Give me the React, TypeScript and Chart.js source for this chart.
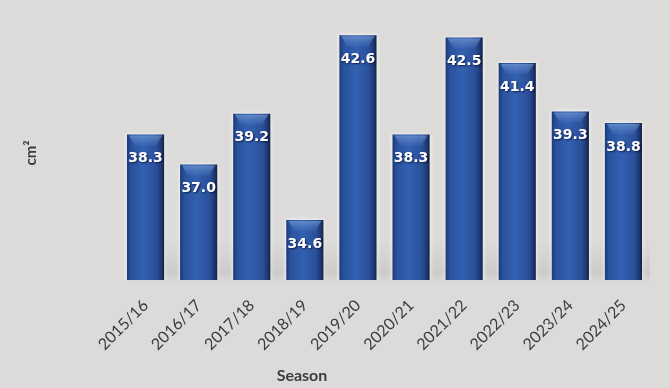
import React, { useEffect, useRef } from "react";
import { Chart, registerables } from "chart.js";

Chart.register(...registerables);

const seasons = [
  "2015/16",
  "2016/17",
  "2017/18",
  "2018/19",
  "2019/20",
  "2020/21",
  "2021/22",
  "2022/23",
  "2023/24",
  "2024/25",
];
const areaValues = [38.3, 37.0, 39.2, 34.6, 42.6, 38.3, 42.5, 41.4, 39.3, 38.8];
const yMin = 32;
const yMax = 43;
const xTitle = "Season";
const yTitle = "cm²";

const BAR_PCT = 0.7;
const TEXT_COLOR = "#3c3c3c";

const backgroundPlugin = {
  id: "bgPlugin",
  beforeDraw(chart: any) {
    const { ctx, width, height, chartArea } = chart;
    ctx.save();
    ctx.fillStyle = "#dcdbda";
    ctx.fillRect(0, 0, width, height);
    const g = ctx.createLinearGradient(0, chartArea.bottom - 40, 0, chartArea.bottom + 4);
    g.addColorStop(0, "rgba(0,0,0,0)");
    g.addColorStop(0.75, "rgba(0,0,0,0.07)");
    g.addColorStop(1, "rgba(0,0,0,0)");
    ctx.fillStyle = g;
    ctx.fillRect(chartArea.left + 10, chartArea.bottom - 40, chartArea.right - chartArea.left - 10, 44);
    ctx.restore();
  },
  beforeDatasetsDraw(chart: any) {
    const ctx = chart.ctx;
    ctx.save();
    ctx.shadowColor = "rgba(255,255,255,0.95)";
    ctx.shadowBlur = 4;
  },
  afterDatasetsDraw(chart: any) {
    const ctx = chart.ctx;
    ctx.restore();
    const meta = chart.getDatasetMeta(0);
    const data = chart.data.datasets[0].data as number[];
    meta.data.forEach((el: any, i: number) => {
      const w = el.width;
      const left = el.x - w / 2;
      const top = el.y;
      const bottom = el.base;
      if (![w, left, top, bottom].every((v) => Number.isFinite(v))) return;
      ctx.save();
      const gb = ctx.createLinearGradient(0, bottom - 24, 0, bottom);
      gb.addColorStop(0, "rgba(10,20,50,0)");
      gb.addColorStop(1, "rgba(10,20,50,0.35)");
      ctx.fillStyle = gb;
      ctx.fillRect(left, bottom - 24, w, 24);
      ctx.beginPath();
      ctx.moveTo(left + 2, top + 1);
      ctx.lineTo(left + w - 2, top + 1);
      ctx.lineTo(left + w - 8, top + 11);
      ctx.lineTo(left + 8, top + 11);
      ctx.closePath();
      const gt = ctx.createLinearGradient(0, top, 0, top + 12);
      gt.addColorStop(0, "rgba(150,185,235,0.55)");
      gt.addColorStop(1, "rgba(90,130,200,0.15)");
      ctx.fillStyle = gt;
      ctx.fill();
      ctx.font = "bold 14px 'DejaVu Sans'";
      ctx.textAlign = "center";
      ctx.textBaseline = "middle";
      ctx.shadowColor = "rgba(0,0,30,0.7)";
      ctx.shadowBlur = 2;
      ctx.shadowOffsetX = 1;
      ctx.shadowOffsetY = 1;
      ctx.fillStyle = "#ffffff";
      ctx.fillText(Number(data[i]).toFixed(1), el.x, top + 24);
      ctx.restore();
    });
  },
  afterDraw(chart: any) {
    const { ctx, chartArea } = chart;
    ctx.save();
    ctx.font = "bold 16px Lato";
    ctx.fillStyle = TEXT_COLOR;
    ctx.textAlign = "center";
    ctx.textBaseline = "middle";
    ctx.fillText(xTitle, chartArea.left + 183, chart.height - 12);
    ctx.restore();
  },
};

export default function App() {
  const ref = useRef<HTMLCanvasElement | null>(null);

  useEffect(() => {
    if (!ref.current) return;
    const chart = new Chart(ref.current, {
      type: "bar",
      data: {
        labels: seasons,
        datasets: [
          {
            data: areaValues,
            barPercentage: BAR_PCT,
            categoryPercentage: 1,
            borderWidth: 0,
            backgroundColor: (c: any) => {
              const ch = c.chart;
              const xs = ch.scales?.x;
              if (!xs || c.type !== "data") return "#2d5aa8";
              const cx = xs.getPixelForValue(c.dataIndex);
              const w = (xs.width / seasons.length) * BAR_PCT;
              if (!Number.isFinite(cx) || !Number.isFinite(w) || w <= 0) return "#2d5aa8";
              const g = ch.ctx.createLinearGradient(cx - w / 2, 0, cx + w / 2, 0);
              g.addColorStop(0, "#1b3a78");
              g.addColorStop(0.12, "#2a529e");
              g.addColorStop(0.45, "#3260b0");
              g.addColorStop(0.8, "#2a4f99");
              g.addColorStop(0.93, "#1d3670");
              g.addColorStop(1, "#11213f");
              return g;
            },
          },
        ],
      },
      options: {
        responsive: false,
        animation: false,
        layout: { padding: { left: 22, top: 26, right: 20, bottom: 0 } },
        plugins: {
          legend: { display: false },
          tooltip: { enabled: false },
        },
        scales: {
          x: {
            grid: { display: false },
            border: { display: false },
            ticks: {
              color: TEXT_COLOR,
              font: { family: "Lato", size: 16 },
              minRotation: 45,
              maxRotation: 45,
              padding: 8,
            },
            afterFit: (s: any) => {
              s.height = 108;
            },
          },
          y: {
            min: yMin,
            max: yMax,
            grid: { display: false },
            border: { display: false },
            ticks: { display: false },
            title: {
              display: true,
              text: yTitle,
              color: TEXT_COLOR,
              font: { family: "Lato", size: 15, weight: "bold" },
              padding: { top: 0, bottom: 0 },
            },
            afterFit: (s: any) => {
              s.width = 97;
            },
          },
        },
      },
      plugins: [backgroundPlugin],
    });
    chart.update();
    return () => chart.destroy();
  }, []);

  return (
    <div style={{ position: "absolute", left: 0, top: 0, width: 670, height: 388 }}>
      <canvas ref={ref} width={670} height={388} />
    </div>
  );
}
